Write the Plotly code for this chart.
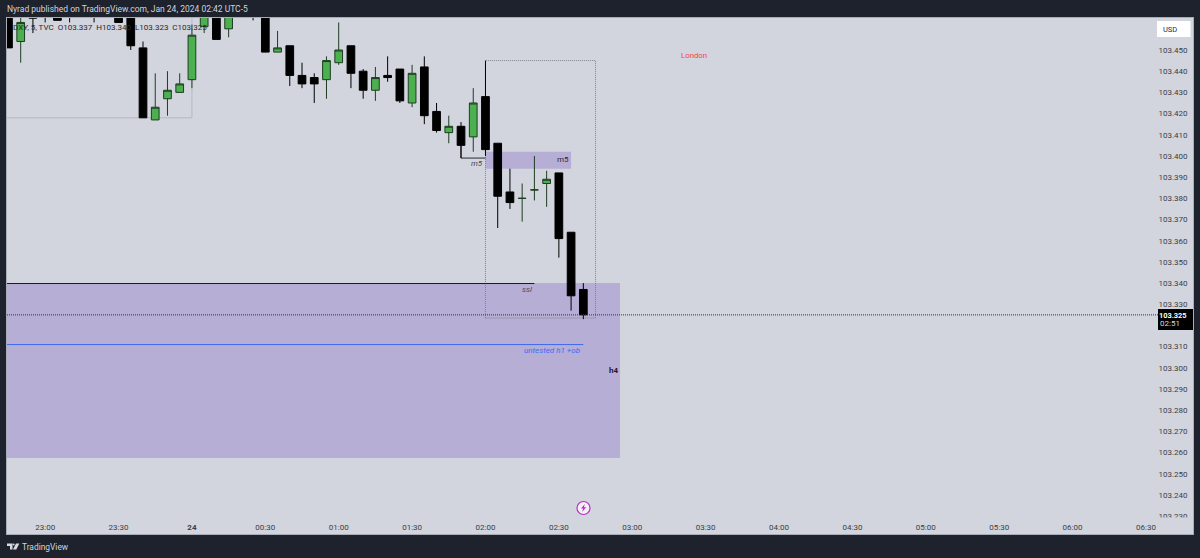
import plotly.graph_objects as go

# ---------- data (5-minute DXY candles) ----------
times = ["2024-01-23 22:45","2024-01-23 22:50","2024-01-23 22:55","2024-01-23 23:00","2024-01-23 23:05","2024-01-23 23:10",
         "2024-01-23 23:15","2024-01-23 23:20","2024-01-23 23:25","2024-01-23 23:30","2024-01-23 23:35","2024-01-23 23:40",
         "2024-01-23 23:45","2024-01-23 23:50","2024-01-23 23:55","2024-01-24 00:00","2024-01-24 00:05","2024-01-24 00:10",
         "2024-01-24 00:15","2024-01-24 00:20","2024-01-24 00:25","2024-01-24 00:30","2024-01-24 00:35","2024-01-24 00:40",
         "2024-01-24 00:45","2024-01-24 00:50","2024-01-24 00:55","2024-01-24 01:00","2024-01-24 01:05","2024-01-24 01:10",
         "2024-01-24 01:15","2024-01-24 01:20","2024-01-24 01:25","2024-01-24 01:30","2024-01-24 01:35","2024-01-24 01:40",
         "2024-01-24 01:45","2024-01-24 01:50","2024-01-24 01:55","2024-01-24 02:00","2024-01-24 02:05","2024-01-24 02:10",
         "2024-01-24 02:15","2024-01-24 02:20","2024-01-24 02:25","2024-01-24 02:30","2024-01-24 02:35","2024-01-24 02:40"]
opens  = [103.470,103.454,103.475,103.475,103.472,103.472,103.475,103.472,103.475,103.475,103.470,103.451,
          103.417,103.427,103.430,103.436,103.461,103.472,103.460,103.475,103.475,103.472,103.449,103.452,
          103.438,103.437,103.436,103.444,103.452,103.440,103.431,103.438,103.441,103.425,103.442,103.421,
          103.411,103.414,103.409,103.428,103.406,103.383,103.380,103.384,103.387,103.392,103.364,103.337]
highs  = [103.475,103.468,103.480,103.480,103.478,103.478,103.480,103.478,103.480,103.480,103.472,103.454,
          103.439,103.440,103.439,103.462,103.475,103.475,103.475,103.480,103.480,103.475,103.459,103.452,
          103.444,103.439,103.447,103.463,103.452,103.441,103.442,103.447,103.441,103.443,103.447,103.425,
          103.419,103.416,103.432,103.445,103.406,103.394,103.387,103.400,103.393,103.392,103.364,103.340]
lows   = [103.451,103.444,103.458,103.463,103.464,103.463,103.467,103.463,103.467,103.463,103.450,103.418,
          103.417,103.419,103.430,103.432,103.458,103.455,103.456,103.468,103.464,103.449,103.449,103.433,
          103.432,103.425,103.427,103.443,103.432,103.427,103.426,103.435,103.425,103.423,103.415,103.411,
          103.406,103.399,103.402,103.400,103.366,103.375,103.369,103.379,103.376,103.352,103.327,103.323]
closes = [103.451,103.463,103.465,103.470,103.464,103.468,103.470,103.468,103.470,103.463,103.452,103.418,
          103.423,103.431,103.434,103.457,103.470,103.455,103.470,103.470,103.470,103.449,103.451,103.438,
          103.434,103.434,103.445,103.450,103.439,103.431,103.437,103.437,103.426,103.439,103.419,103.412,
          103.414,103.405,103.425,103.403,103.381,103.378,103.380,103.384,103.389,103.361,103.334,103.325]

x_tick_vals = ["2024-01-23 23:00","2024-01-23 23:30","2024-01-24 00:00","2024-01-24 00:30","2024-01-24 01:00",
               "2024-01-24 01:30","2024-01-24 02:00","2024-01-24 02:30","2024-01-24 03:00","2024-01-24 03:30",
               "2024-01-24 04:00","2024-01-24 04:30","2024-01-24 05:00","2024-01-24 05:30","2024-01-24 06:00",
               "2024-01-24 06:30"]
x_tick_text = ["23:00","23:30","<b>24</b>","00:30","01:00","01:30","02:00","02:30","03:00","03:30",
               "04:00","04:30","05:00","05:30","06:00","06:30"]
y_tick_vals = [103.23,103.24,103.25,103.26,103.27,103.28,103.29,103.30,103.31,103.33,103.34,
               103.35,103.36,103.37,103.38,103.39,103.40,103.41,103.42,103.43,103.44,103.45]
y_tick_text = ["%.3f" % v for v in y_tick_vals]

last_price = 103.325
ssl_level = 103.3398
ob_level = 103.311
h4_zone = (103.2575, 103.340)
m5_zone = (103.394, 103.402)

# ---------- styling / page geometry ----------
W, H = 1200, 558
L, R, T, B = 7, 1193, 18, 534
DARK = "#1E222D"
BG = "#D2D5DD"
ZONE = "#B7AED5"
FONT = "Roboto, Liberation Sans, sans-serif"

def px(x):
    return (x - L) / (R - L)

def py(y):
    return (B - y) / (B - T)

def box(x0, y0, x1, y1, fill, layer="above", line=None):
    return dict(type="rect", xref="paper", yref="paper", x0=px(x0), x1=px(x1), y0=py(y0), y1=py(y1),
                fillcolor=fill, line=line or dict(width=0), layer=layer)

def pxpath(points, fill):
    d = "M" + " L".join(f"{px(a):.5f},{py(b):.5f}" for a, b in points) + " Z"
    return dict(type="path", xref="paper", yref="paper", path=d, fillcolor=fill, line=dict(width=0), layer="above")

fig = go.Figure(go.Candlestick(
    x=times, open=opens, high=highs, low=lows, close=closes,
    increasing=dict(line=dict(color="#1F3D22", width=1), fillcolor="#4CAF50"),
    decreasing=dict(line=dict(color="#000000", width=1), fillcolor="#000000"),
    whiskerwidth=0, hoverinfo="skip", showlegend=False,
))

dotted = dict(color="#9A9DA6", width=1, dash="1px,1px")
shapes = [
    # purple zones
    dict(type="rect", xref="x", yref="y", x0="2024-01-23 22:00", x1="2024-01-24 02:55",
         y0=h4_zone[0], y1=h4_zone[1], fillcolor=ZONE, line=dict(width=0), layer="below"),
    dict(type="rect", xref="x", yref="y", x0="2024-01-24 02:00", x1="2024-01-24 02:35",
         y0=m5_zone[0], y1=m5_zone[1], fillcolor=ZONE, line=dict(width=0), layer="below"),
    # dotted range boxes
    dict(type="rect", xref="x", yref="y", x0="2024-01-23 22:00", x1="2024-01-24 00:00",
         y0=103.418, y1=103.50, fillcolor="rgba(0,0,0,0)", line=dotted, layer="below"),
    dict(type="rect", xref="x", yref="y", x0="2024-01-24 02:00", x1="2024-01-24 02:45",
         y0=103.3235, y1=103.445, fillcolor="rgba(0,0,0,0)",
         line=dict(color="#7E818B", width=1, dash="1px,1px"), layer="below"),
    # levels
    dict(type="line", xref="x", yref="y", x0="2024-01-23 22:00", x1="2024-01-24 02:20",
         y0=ssl_level, y1=ssl_level, line=dict(color="#1A1A1E", width=1), layer="below"),
    dict(type="line", xref="x", yref="y", x0="2024-01-23 22:00", x1="2024-01-24 02:40",
         y0=ob_level, y1=ob_level, line=dict(color="#3D6BF0", width=1), layer="below"),
    # m5 bracket
    dict(type="line", xref="x", yref="y", x0="2024-01-24 01:50", x1="2024-01-24 01:50",
         y0=103.399, y1=103.405, line=dict(color="#2A2A2E", width=1), layer="below"),
    dict(type="line", xref="x", yref="y", x0="2024-01-24 01:50", x1="2024-01-24 02:00",
         y0=103.399, y1=103.399, line=dict(color="#2A2A2E", width=1), layer="below"),
    # last price line
    dict(type="line", xref="paper", yref="y", x0=0, x1=px(1158),
         y0=last_price, y1=last_price, line=dict(color="#30333A", width=1, dash="1px,1px"), layer="above"),
    # price tag
    box(1158, 309, 1193, 330, "#000000"),
    # clip the bottom price label behind the time strip
    box(1156, 517.5, 1192.5, 533.5, BG),
    # USD button
    box(1157, 21, 1190.5, 37, "#FFFFFF"),
    # lightning badge
    dict(type="circle", xref="paper", yref="paper", x0=px(577), x1=px(590), y0=py(501.5), y1=py(514.5),
         fillcolor="#F4F0F6", line=dict(color="#B530C4", width=1.2), layer="above"),
    pxpath([(584.8, 504), (581, 508.6), (583.2, 508.6), (582.2, 512), (586.2, 507.2), (583.9, 507.2)], "#B530C4"),
    # TradingView logo
    pxpath([(7, 543.5), (12.5, 543.5), (12.5, 549.5), (10, 549.5), (10, 546), (7, 546)], "#D8DAE0"),
    dict(type="circle", xref="paper", yref="paper", x0=px(12.6), x1=px(14.6), y0=py(543.5), y1=py(545.5),
         fillcolor="#D8DAE0", line=dict(width=0), layer="above"),
    pxpath([(16, 543.5), (19.3, 543.5), (16.3, 549.5), (13, 549.5)], "#D8DAE0"),
]

def note(x, y, text, color, size=8, anchor="center", italic=False, bold=False):
    if italic:
        text = f"<i>{text}</i>"
    if bold:
        text = f"<b>{text}</b>"
    return dict(xref="paper", yref="paper", x=px(x), y=py(y), text=text, showarrow=False, xanchor=anchor,
                yanchor="middle", font=dict(family=FONT, size=size, color=color), align="left",
                borderpad=0, borderwidth=0)

annotations = [
    note(7, 9, "Nyrad published on TradingView.com, Jan 24, 2024 02:42 UTC-5", "#D1D4DC", size=8.5, anchor="left"),
    note(13, 27, "DXY, 5, TVC&nbsp;&nbsp;O103.337&nbsp;&nbsp;H103.340&nbsp;&nbsp;L103.323&nbsp;&nbsp;C103.325", "#26282E", size=8, anchor="left"),
    note(22, 546.5, "TradingView", "#D1D4DC", size=8.4, anchor="left"),
    note(693.5, 55, "London", "#F2424B", size=7.8),
    note(477, 163.5, "m5", "#4A4A55", size=8, italic=True),
    note(563, 159.5, "m5", "#2A2540", size=8),
    note(527, 289, "ssl", "#4A4660", size=8, italic=True),
    note(552, 350.5, "untested h1 +ob", "#3D6BF0", size=8, italic=True),
    note(613, 370.5, "h4", "#1E1B2E", size=8, bold=True),
    note(1169.5, 29, "USD", "#2A2E39", size=7.5),
    note(1187, 315, "103.325", "#FFFFFF", size=7.4, anchor="right", bold=True),
    note(1159.5, 324, "02:51", "#D8DAE0", size=8, anchor="left"),
]

axis_line = "#A9ACB6"
fig.update_layout(
    width=W, height=H,
    margin=dict(l=L, r=W - R, t=T, b=H - B, pad=0),
    paper_bgcolor=DARK, plot_bgcolor=BG,
    font=dict(family=FONT, size=8, color="#3A3D46"),
    shapes=shapes, annotations=annotations, showlegend=False,
    boxgap=0.1, dragmode=False,
    xaxis=dict(type="date", range=["2024-01-23 22:44:24", "2024-01-24 06:49:14"], rangeslider=dict(visible=False),
               tickmode="array", tickvals=x_tick_vals, ticktext=x_tick_text, ticklabelposition="inside",
               ticklabelstandoff=1,
               ticks="", showgrid=False, zeroline=False, showline=True, mirror=True, linecolor=axis_line, linewidth=1,
               tickfont=dict(family=FONT, size=8, color="#3A3D46")),
    yaxis=dict(side="right", range=[103.2216, 103.4651], tickmode="array", tickvals=y_tick_vals, ticktext=y_tick_text,
               ticklabelposition="inside", ticklabelstandoff=4, ticks="", showgrid=False, zeroline=False,
               showline=True, mirror=True,
               linecolor=axis_line, linewidth=1, tickfont=dict(family=FONT, size=8, color="#3A3D46")),
)

fig.write_html("out.html", config=dict(displayModeBar=False, responsive=False),
               post_script="document.body.style.margin='0';document.body.style.overflow='hidden';")
